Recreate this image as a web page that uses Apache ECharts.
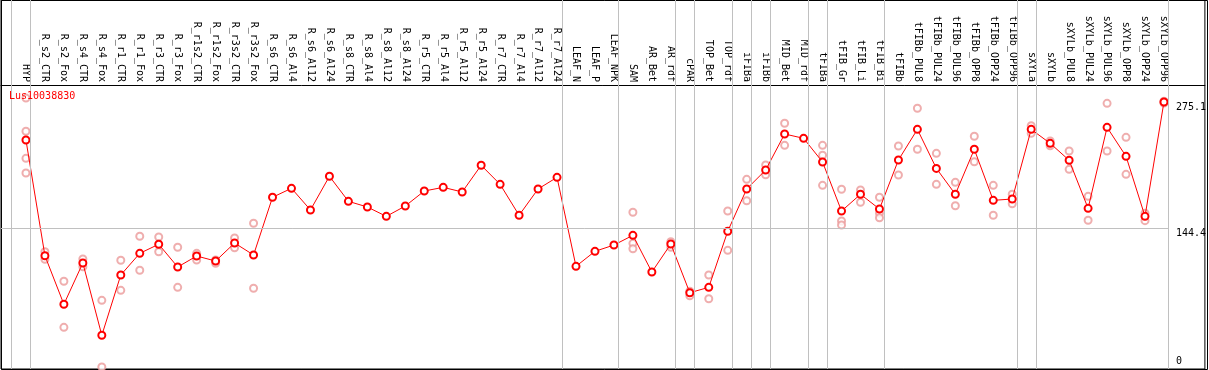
<!DOCTYPE html>
<html>
<head>
<meta charset="utf-8">
<script src="https://cdn.jsdelivr.net/npm/echarts@6/dist/echarts.min.js"></script>
<style>
html,body{margin:0;padding:0;background:#fff;}
#chart{width:1209px;height:370px;}
</style>
</head>
<body>
<div id="chart"></div>
<script>
const geneId='Lus10038830';

const categories=['HYP','R_s2_CTR','R_s2_Fox','R_s4_CTR','R_s4_Fox','R_r1_CTR','R_r1_Fox','R_r3_CTR','R_r3_Fox',
  'R_r1s2_CTR','R_r1s2_Fox','R_r3s2_CTR','R_r3s2_Fox','R_s6_CTR','R_s6_Al4','R_s6_Al12','R_s6_Al24',
  'R_s8_CTR','R_s8_Al4','R_s8_Al12','R_s8_Al24','R_r5_CTR','R_r5_Al4','R_r5_Al12','R_r5_Al24',
  'R_r7_CTR','R_r7_Al4','R_r7_Al12','R_r7_Al24','LEAF_N','LEAF_P','LEAF_NPK','SAM','AR_Bet','AR_rdf',
  'cPAR','TOP_Bet','TOP_rdf','iFIBa','iFIBb','MID_Bet','MID_rdf','tFIBa','tFIB_Gr','tFIB_Li','tFIB_Bi',
  'tFIBb','tFIBb_PUL8','tFIBb_PUL24','tFIBb_PUL96','tFIBb_OPP8','tFIBb_OPP24','tFIBb_OPP96',
  'sXYLa','sXYLb','sXYLb_PUL8','sXYLb_PUL24','sXYLb_PUL96','sXYLb_OPP8','sXYLb_OPP24','sXYLb_OPP96'];

// mean expression per sample
const means=[235.6,115.5,65.1,108,32.9,95.5,118,127.4,103.8,115.2,
  110,128.7,116.3,176.2,185.5,163,198,172,166.1,156.4,
  167.1,182.7,186.5,181.7,209.4,189.6,157.5,184.8,196.9,104.5,
  120.1,126.6,136.7,98.6,127.7,77.1,82.7,140.9,184.8,204.5,
  241.9,237.4,212.8,161.9,179.3,164,214.9,246.7,206.2,179.3,
  226,173,174.4,246.7,232.2,214.6,164.7,248.8,218.7,156.4,275.1];

// individual replicates per sample (empty = none shown)
const replicates=[[279.2,244.7,216.6,201.4],[119.7,111.8],[89,41.2],[112.1,104.1],[69.2,0],
  [110.8,79.6],[135.7,100.4],[135,119.7],[124.3,82.7],[118,111.1],[111.1,107.6],[133.9,123.8],[149.2,81.7],
  [],[],[],[],[],[],[],[],[],[],[],[],[],[],[],[],
  [],[],[],[160.6,128.4,122.8],[],[130.1,124.3],[78.6,74],[95.5,70.9],[161.9,121.1],
  [194.8,172.6],[209.7,199.6],[253,230.1],[],[230.1,219.8,188.6],[184.5,151.6,147.4],[183.7,171],
  [176.2,159.6,155],[229.4,199.3],[268.6,226],[221.8,189.6],[191.7,167.4],[239.5,213.1],[188.6,157.5],
  [179.3,169.5],[250.5,242.6],[234.6,229.7],[224.2,205.2],[177.2,152.3],[273.7,224.2],[238.4,200],
  [159.6,151.9],[276,274]];

// last sample index of each group (separator drawn just after it)
const groupEnds=[-1,0,28,31,34,35,37,38,39,41,42,45,52,53,60];
const yTicks=[0,144.4,275.1];
const refLine=144.4;

const xMin=-1.3158, xMax=62.158, yMin=-2.08, yMax=381;
const mono='DejaVu Sans Mono';

const meanData=means.map((v,i)=>[i,v]);
const repData=[];
replicates.forEach((arr,i)=>arr.forEach(v=>repData.push([i,v])));

const sepLines=groupEnds.map(g=>[{coord:[g+0.25,yMin]},{coord:[g+0.25,yMax]}]);
sepLines.push([{coord:[xMin,refLine]},{coord:[60.25,refLine]}]);

const chart=echarts.init(document.getElementById('chart'));
chart.setOption({
  animation:false,
  title:{
    text:geneId,left:9,top:91,padding:0,
    textStyle:{color:'#ff0000',fontSize:10,fontWeight:'normal',fontFamily:mono}
  },
  grid:{left:1,right:2,top:0,bottom:1,show:true,borderColor:'#000',borderWidth:1,backgroundColor:'transparent'},
  xAxis:{
    type:'value',min:xMin,max:xMax,position:'top',offset:-85,
    axisLine:{show:true,onZero:false,lineStyle:{color:'#000',width:1}},
    axisTick:{show:false},
    splitLine:{show:false},
    axisLabel:{
      customValues:categories.map((c,i)=>i),
      rotate:90,margin:3,fontSize:10,fontFamily:mono,color:'#000',
      formatter:v=>categories[Math.round(v)]
    }
  },
  yAxis:{
    type:'value',min:yMin,max:yMax,position:'right',offset:-33,
    axisLine:{show:false},axisTick:{show:false},splitLine:{show:false},
    axisLabel:{
      customValues:yTicks,margin:4,align:'left',verticalAlign:'middle',
      fontSize:10,fontFamily:mono,color:'#000',
      formatter:v=>v===0?'{b|0}':'{t|'+v+'}',
      rich:{
        t:{fontSize:10,fontFamily:mono,color:'#000',padding:[11,0,0,0]},
        b:{fontSize:10,fontFamily:mono,color:'#000',padding:[0,0,11,0]}
      }
    }
  },
  series:[
    {
      type:'line',data:[],silent:true,
      markLine:{
        silent:true,symbol:'none',label:{show:false},
        lineStyle:{color:'#c0c0c0',width:1,type:'solid'},
        data:sepLines
      },
      z:1
    },
    {
      type:'scatter',data:repData,symbol:'emptyCircle',symbolSize:7,
      itemStyle:{color:'#eb9a9a',borderColor:'#eb9a9a',borderWidth:1.2},
      z:2
    },
    {
      type:'line',data:meanData,symbol:'emptyCircle',symbolSize:7,
      lineStyle:{color:'#ff0000',width:1},
      itemStyle:{color:'#ff0000',borderColor:'#ff0000',borderWidth:1.3},
      z:3
    }
  ],
  graphic:[{
    type:'rect',silent:true,
    shape:{x:1.5,y:0.5,width:1206,height:369},
    style:{fill:'none',stroke:'#000',lineWidth:1}
  }]
});
</script>
</body>
</html>
